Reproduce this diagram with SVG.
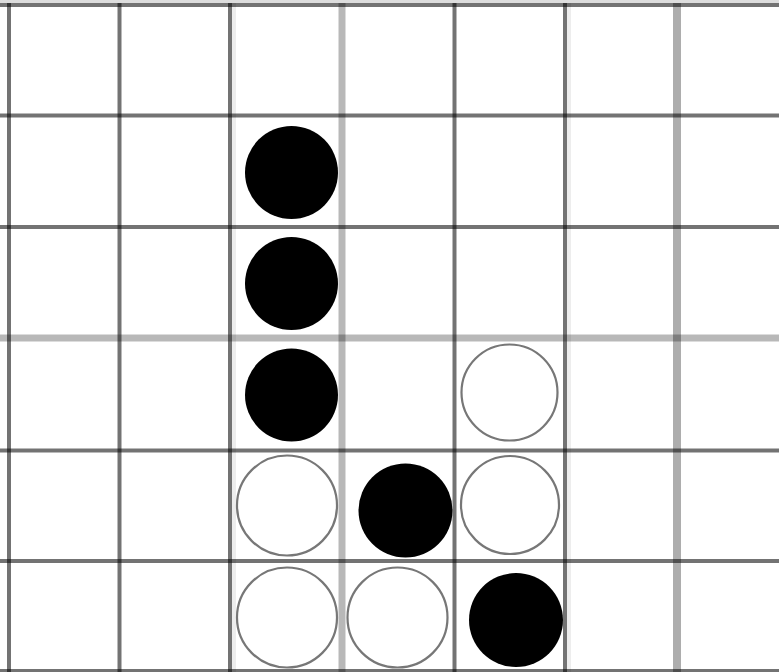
<svg xmlns="http://www.w3.org/2000/svg" width="779" height="672" viewBox="0 0 779 672">
<style>
.g{stroke:#000;stroke-opacity:0.55;stroke-width:4;fill:none}
.l{stroke:#000;stroke-opacity:0.28;stroke-width:7;fill:none}
.b{fill:#000}
.w{fill:#fff;stroke:#777;stroke-width:2.2}
</style>
<rect width="779" height="672" fill="#fff"/>
<g id="grid">
<rect x="0" y="0" width="779" height="3" fill="#ddd"/>
<line class="g" x1="0" y1="5" x2="779" y2="5" stroke-opacity="0.42"/>
<line class="g" x1="0" y1="115.5" x2="779" y2="115.5"/>
<line class="g" x1="0" y1="227" x2="779" y2="227"/>
<line class="l" x1="0" y1="338" x2="779" y2="338"/>
<line class="g" x1="0" y1="450.5" x2="779" y2="450.5"/>
<line class="g" x1="0" y1="561" x2="779" y2="561" stroke-opacity="0.6"/>
<line class="g" x1="0" y1="671" x2="779" y2="671" stroke-opacity="0.42"/>
<line class="g" x1="9" y1="3" x2="9" y2="672" stroke-opacity="0.6"/>
<line class="g" x1="119.5" y1="3" x2="119.5" y2="672"/>
<line class="g" x1="230" y1="3" x2="230" y2="672" stroke-opacity="0.5"/>
<line x1="234" y1="3" x2="234" y2="672" stroke="#000" stroke-opacity="0.07" stroke-width="4"/>
<line class="l" x1="342" y1="3" x2="342" y2="672" stroke-opacity="0.33"/>
<line class="g" x1="454.5" y1="3" x2="454.5" y2="672"/>
<line class="g" x1="565" y1="3" x2="565" y2="672" stroke-opacity="0.5"/>
<line x1="569" y1="3" x2="569" y2="672" stroke="#000" stroke-opacity="0.07" stroke-width="4"/>
<line x1="677" y1="3" x2="677" y2="672" stroke="#000" stroke-opacity="0.32" stroke-width="8"/>
</g>
<g id="stones">
<circle class="b" cx="291.5" cy="172.5" r="46.5"/>
<circle class="b" cx="291.5" cy="283.5" r="46.5"/>
<circle class="b" cx="291.5" cy="395" r="46.5"/>
<circle class="w" cx="509.5" cy="392.5" r="48"/>
<circle class="w" cx="287" cy="505.5" r="50"/>
<circle class="b" cx="405.5" cy="510.5" r="47"/>
<circle class="w" cx="510" cy="505" r="49"/>
<circle class="w" cx="287" cy="617.5" r="50"/>
<circle class="w" cx="397.5" cy="617.5" r="50"/>
<circle class="b" cx="516" cy="620" r="47"/>
</g>
</svg>
